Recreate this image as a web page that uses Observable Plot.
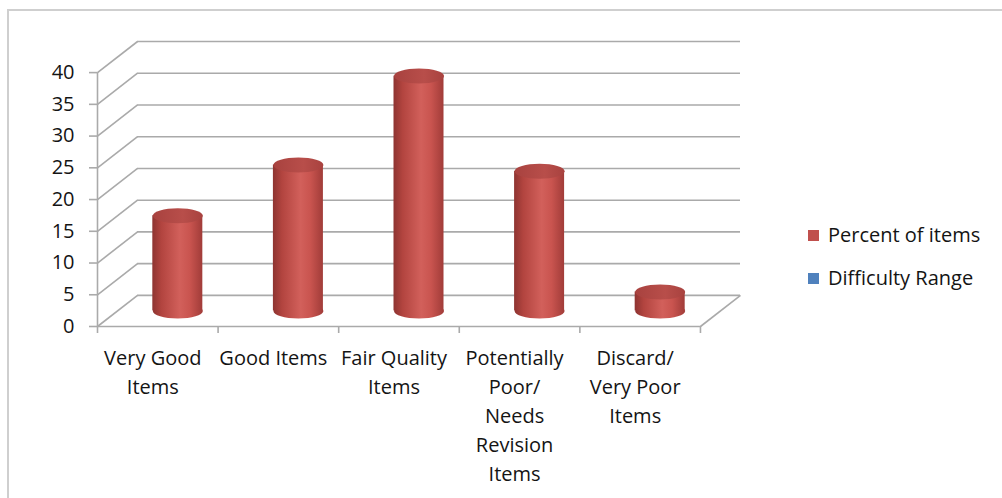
<!DOCTYPE html>
<html>
<head>
<meta charset="utf-8">
<script src="https://cdn.jsdelivr.net/npm/d3@7"></script>
<script src="https://cdn.jsdelivr.net/npm/@observablehq/plot@0.6"></script>
<style>
  html, body { margin: 0; padding: 0; background: #fff; }
  #wrap { position: relative; width: 1002px; height: 498px; overflow: hidden; font-family: "Open Sans", sans-serif; }
  #border { position: absolute; left: 7px; top: 9px; width: 1100px; height: 600px;
            border-left: 2px solid #cfcfcf; border-top: 2px solid #cfcfcf; }
  #chart { position: absolute; left: 0; top: 0; }
  .leg { position: absolute; left: 808px; font-size: 20px; color: #141414; white-space: nowrap; line-height: 1; }
  .leg span.sw { position: absolute; left: 0; top: 5px; width: 11px; height: 11px; }
  .leg span.tx { position: absolute; left: 20px; top: 0; }
</style>
</head>
<body>
<div id="wrap">
  <div id="border"></div>
  <div id="chart"></div>
  <div id="legend"></div>
</div>
<script>
// ---- data ----
const categories = ["Very Good Items", "Good Items", "Fair Quality Items", "Potentially Poor/ Needs Revision Items", "Discard/ Very Poor Items"];
const categoryLabels = ["Very Good\nItems", "Good Items", "Fair Quality\nItems", "Potentially\nPoor/\nNeeds\nRevision\nItems", "Discard/\nVery Poor\nItems"];
const percentOfItems = [15, 23, 37, 22, 3];
const seriesNames = ["Percent of items", "Difficulty Range"];
const seriesColors = ["#C0504D", "#4F81BD"];
const yTicks = [0, 5, 10, 15, 20, 25, 30, 35, 40];

// ---- layout (oblique 3D depth, in data units) ----
const DX = 0.332;   // depth offset along category axis
const DY = 4.9;     // depth offset along value axis
const n = categories.length;
const bounds = d3.range(n + 1);

const rows = categories.map((c, i) => ({
  name: c,
  label: categoryLabels[i],
  pos: i + 0.5,
  value: percentOfItems[i]
}));

const ellipse = {
  draw(ctx) {
    const rx = 25, ry = 7.5, k = 0.5523;
    ctx.moveTo(rx, 0);
    ctx.bezierCurveTo(rx, ry * k, rx * k, ry, 0, ry);
    ctx.bezierCurveTo(-rx * k, ry, -rx, ry * k, -rx, 0);
    ctx.bezierCurveTo(-rx, -ry * k, -rx * k, -ry, 0, -ry);
    ctx.bezierCurveTo(rx * k, -ry, rx, -ry * k, rx, 0);
    ctx.closePath();
  }
};

const defs = () => {
  const d = d3.create("svg:defs");
  const g = d.append("linearGradient").attr("id", "cyl").attr("x1", "0").attr("x2", "1").attr("y1", "0").attr("y2", "0");
  [[0, "#8e3431"], [0.18, "#b2443f"], [0.55, "#d2605b"], [0.75, "#c9544f"], [1, "#a13c39"]]
    .forEach(([o, c]) => g.append("stop").attr("offset", o).attr("stop-color", c));
  const t = d.append("linearGradient").attr("id", "cyltop").attr("x1", "0").attr("x2", "1").attr("y1", "0").attr("y2", "0");
  [[0, "#a8423f"], [0.6, "#b84e4a"], [1, "#a8423f"]]
    .forEach(([o, c]) => t.append("stop").attr("offset", o).attr("stop-color", c));
  return d.node();
};

const grid = "#aaaaaa";

const chart = Plot.plot({
  width: 1002,
  height: 498,
  marginLeft: 97,
  marginRight: 262,
  marginTop: 41,
  marginBottom: 172,
  style: { fontFamily: "'Open Sans', sans-serif", fontSize: "20px", color: "#141414", background: "transparent", overflow: "visible" },
  x: { type: "linear", domain: [0, n + DX], axis: null },
  y: { type: "linear", domain: [0, 40 + DY], axis: null },
  marks: [
    defs,
    // back wall gridlines
    Plot.ruleY(yTicks, { y: d => d + DY, x1: DX, x2: n + DX, stroke: grid, strokeWidth: 1.6 }),
    // side wall diagonals
    Plot.link(yTicks, { x1: 0, y1: d => d, x2: DX, y2: d => d + DY, stroke: grid, strokeWidth: 1.6 }),
    // floor right edge
    Plot.link([n], { x1: d => d, y1: 0, x2: d => d + DX, y2: DY, stroke: grid, strokeWidth: 1.6 }),
    // floor front edge
    Plot.ruleY([0], { x1: 0, x2: n, stroke: grid, strokeWidth: 1.6 }),
    // front value axis line
    Plot.ruleX([0], { y1: 0, y2: 40, stroke: grid, strokeWidth: 1.6 }),
    // value axis ticks + labels
    Plot.axisY(yTicks, { anchor: "left", tickSize: 8, tickPadding: 15, stroke: grid, strokeWidth: 1.6, fill: "#141414", label: null }),
    // category boundary ticks
    Plot.axisX(bounds, { anchor: "bottom", tickSize: 7, tickFormat: () => "", stroke: grid, strokeWidth: 1.6, label: null }),
    // category labels
    Plot.text(rows, { x: "pos", y: 0, text: "label", lineAnchor: "top", textAnchor: "middle", dy: 18, dx: -5, lineHeight: 1.45, fill: "#141414" }),
    // cylinders (at mid depth)
    Plot.dot(rows, { x: d => d.pos + DX / 2, y: DY / 2, symbol: ellipse, fill: "url(#cyl)", stroke: "none" }),
    Plot.rect(rows, { x1: d => d.pos + DX / 2, x2: d => d.pos + DX / 2, y1: DY / 2, y2: d => d.value + DY / 2, insetLeft: -25, insetRight: -25, fill: "url(#cyl)" }),
    Plot.dot(rows, { x: d => d.pos + DX / 2, y: d => d.value + DY / 2, symbol: ellipse, fill: "url(#cyltop)", stroke: "none" })
  ]
});
document.getElementById("chart").appendChild(chart);

// legend
const legend = document.getElementById("legend");
const legendTops = [225, 268];
seriesNames.forEach((s, i) => {
  const el = document.createElement("div");
  el.className = "leg";
  el.style.top = legendTops[i] + "px";
  el.innerHTML = `<span class="sw" style="background:${seriesColors[i]}"></span><span class="tx">${s}</span>`;
  legend.appendChild(el);
});
</script>
</body>
</html>
